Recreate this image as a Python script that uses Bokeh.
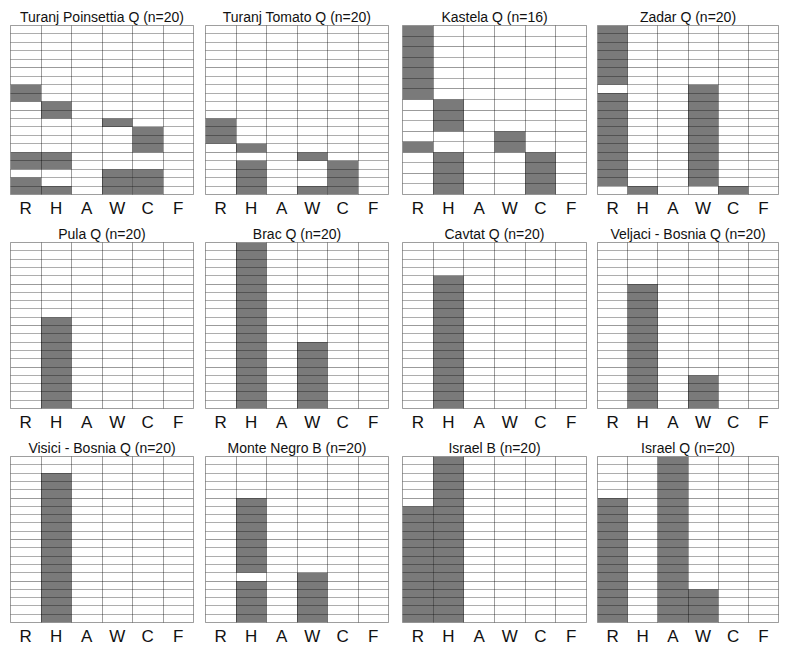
from bokeh.plotting import figure
from bokeh.layouts import gridplot
from bokeh.models import ColumnDataSource, FixedTicker, Grid, Range1d
from bokeh.embed import file_html
from bokeh.resources import INLINE

# ---------------- data ----------------
categories = ["R", "H", "A", "W", "C", "F"]

titles = [
    "Turanj Poinsettia Q (n=20)", "Turanj Tomato Q (n=20)", "Kastela Q (n=16)", "Zadar Q (n=20)",
    "Pula Q (n=20)", "Brac Q (n=20)", "Cavtat Q (n=20)", "Veljaci - Bosnia Q (n=20)",
    "Visici - Bosnia Q (n=20)", "Monte Negro B (n=20)", "Israel B (n=20)", "Israel Q (n=20)",
]
sample_sizes = [20, 20, 16, 20, 20, 20, 20, 20, 20, 20, 20, 20]

# filled blocks per category: (first row, last row), row 1 = bottom
turanj_poinsettia_q = [[(1, 2), (4, 5), (12, 13)], [(1, 1), (4, 5), (10, 11)], [], [(1, 3), (9, 9)], [(1, 3), (6, 8)], []]
turanj_tomato_q = [[(7, 9)], [(1, 4), (6, 6)], [], [(1, 1), (5, 5)], [(1, 4)], []]
kastela_q = [[(5, 5), (10, 16)], [(1, 4), (7, 9)], [], [(5, 6)], [(1, 4)], []]
zadar_q = [[(2, 12), (14, 20)], [(1, 1)], [], [(2, 13)], [(1, 1)], []]
pula_q = [[], [(1, 11)], [], [], [], []]
brac_q = [[], [(1, 20)], [], [(1, 8)], [], []]
cavtat_q = [[], [(1, 16)], [], [], [], []]
veljaci_bosnia_q = [[], [(1, 15)], [], [(1, 4)], [], []]
visici_bosnia_q = [[], [(1, 18)], [], [], [], []]
monte_negro_b = [[], [(1, 5), (7, 15)], [], [(1, 6)], [], []]
israel_b = [[(1, 14)], [(1, 20)], [], [], [], []]
israel_q = [[(1, 15)], [], [(1, 20)], [(1, 4)], [], []]

panels = [turanj_poinsettia_q, turanj_tomato_q, kastela_q, zadar_q,
          pula_q, brac_q, cavtat_q, veljaci_bosnia_q,
          visici_bosnia_q, monte_negro_b, israel_b, israel_q]

# ---------------- layout ----------------
col_widths = [199, 196, 196, 193]
col_left = [10, 6, 7, 6]
col_right = [6, 7, 5, 6]
row_heights = [220, 214, 216]
row_top = [25, 22, 22]
row_bottom = [24, 25, 28]

FILL = "#7a7a7a"
FONT = "Liberation Sans"


def make_panel(title, n, blocks, w, h, lb, rb, tb, bb):
    p = figure(width=w, height=h, output_backend="svg", toolbar_location=None,
               x_range=Range1d(0, len(categories)), y_range=Range1d(0, n),
               y_axis_location=None, min_border_left=lb, min_border_right=rb,
               min_border_top=tb, min_border_bottom=bb)
    xs, bots, tops = [], [], []
    for ci, runs in enumerate(blocks):
        for (a, b) in runs:
            xs.append(ci + 0.5)
            bots.append(a - 1)
            tops.append(b)
    src = ColumnDataSource(dict(x=xs, bottom=bots, top=tops))
    p.vbar(x="x", bottom="bottom", top="top", width=1.0, source=src,
           fill_color=FILL, line_color=None)

    # column labels
    centers = [i + 0.5 for i in range(len(categories))]
    p.xaxis.ticker = FixedTicker(ticks=centers)
    p.xaxis.major_label_overrides = {c: lab for c, lab in zip(centers, categories)}
    p.xaxis.axis_line_color = None
    p.xaxis.major_tick_line_color = None
    p.xaxis.minor_tick_line_color = None
    p.xaxis.major_tick_out = 0
    p.xaxis.major_tick_in = 0
    p.xaxis.minor_tick_out = 0
    p.xaxis.minor_tick_in = 0
    p.xaxis.major_label_standoff = 4
    p.xaxis.major_label_text_font = FONT
    p.xaxis.major_label_text_font_size = "17px"
    p.xaxis.major_label_text_color = "#111111"

    # vertical separators
    p.xgrid.ticker = FixedTicker(ticks=list(range(1, len(categories))))
    p.xgrid.grid_line_color = "black"
    p.xgrid.grid_line_alpha = 0.38
    p.xgrid.level = "overlay"

    # horizontal row lines
    yg = Grid(dimension=1, ticker=FixedTicker(ticks=list(range(1, n))),
              grid_line_color="black", grid_line_alpha=0.32, level="overlay")
    p.add_layout(yg)

    p.outline_line_color = "black"
    p.outline_line_alpha = 0.38

    p.title.text = title
    p.title.align = "center"
    p.title.text_font = FONT
    p.title.text_font_size = "14px"
    p.title.text_font_style = "normal"
    p.title.text_color = "#111111"
    p.title.standoff = 1
    p.background_fill_color = "white"
    p.border_fill_color = "white"
    return p


rows = []
k = 0
for r in range(3):
    row = []
    for c in range(4):
        row.append(make_panel(titles[k], sample_sizes[k], panels[k],
                              col_widths[c], row_heights[r], col_left[c], col_right[c],
                              row_top[r], row_bottom[r]))
        k += 1
    rows.append(row)

layout = gridplot(rows, toolbar_location=None)

open("out.html", "w").write(file_html(layout, INLINE))
